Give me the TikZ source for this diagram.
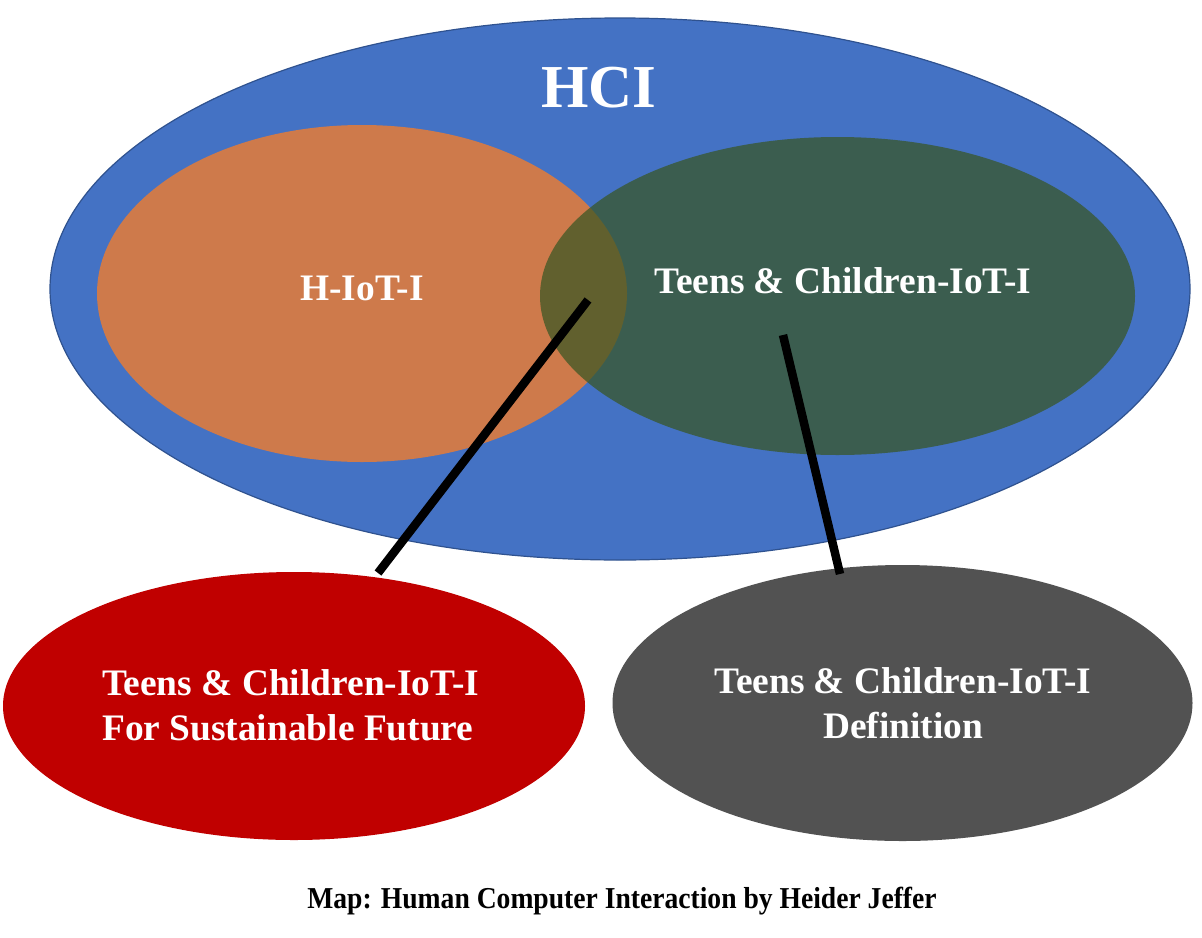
\documentclass[tikz,border=0pt]{standalone}
\usepackage{fontspec}
\setmainfont{Liberation Serif}
\usetikzlibrary{shapes.geometric}
\definecolor{hciblue}{RGB}{68,114,196}
\definecolor{hciborder}{RGB}{47,82,143}
\definecolor{hiotorange}{RGB}{206,122,75}
\definecolor{teengreen}{RGB}{56,86,35}
\definecolor{sustred}{RGB}{192,0,0}
\definecolor{defgray}{RGB}{82,82,82}
\tikzset{
  blob/.style={ellipse, inner sep=0pt, outer sep=0pt},
  whitetext/.style={text=white, font=\bfseries\fontsize{37.4}{45}\selectfont, inner sep=0pt},
  link/.style={line width=8.5pt, black, line cap=butt}
}
\begin{document}
\begin{tikzpicture}[x=1pt,y=-1pt]
\useasboundingbox (0,0) rectangle (1202,937);
\fill[white] (0,0) rectangle (1202,937);
% ellipses
\node[blob, fill=hciblue, draw=hciborder, line width=1.2pt, minimum width=1140pt, minimum height=542pt] (hci) at (620,289) {};
\node[blob, fill=hiotorange, minimum width=530pt, minimum height=337pt] (hiot) at (362,293.5) {};
\node[blob, fill=teengreen, fill opacity=0.72, minimum width=595pt, minimum height=318pt] (teen) at (837.5,296) {};
\node[blob, fill=sustred, minimum width=582pt, minimum height=268pt] (sust) at (294,706) {};
\node[blob, fill=defgray, minimum width=580pt, minimum height=276pt] (def) at (902.5,703) {};
% connectors
\coordinate (s1) at (588,300);
\coordinate (e1) at (378,573);
\coordinate (s2) at (783,335);
\coordinate (e2) at (840,574);
\draw[link] (s1) -- (e1);
\draw[link] (s2) -- (e2);
% texts
\node[whitetext, font=\bfseries\fontsize{61}{70}\selectfont, anchor=base] (hcit) at (599,107) {HCI};
\node[whitetext, anchor=base] (hiott) at (362,300) {H-IoT-I};
\node[whitetext, anchor=base] (teent) at (843,293) {Teens \& Children-IoT-I};
\node[whitetext, anchor=base west] (sust1) at (102,695) {Teens \& Children-IoT-I};
\node[whitetext, anchor=base west] (sust2) at (102,740) {For Sustainable Future};
\node[whitetext, anchor=base] (def1) at (903,693) {Teens \& Children-IoT-I};
\node[whitetext, anchor=base] (def2) at (903,738) {Definition};
\node[font=\bfseries\fontsize{27.6}{32}\selectfont, inner sep=0pt, anchor=base, yscale=1.1] (cap) at (622,908) {Map: Human Computer Interaction by Heider Jeffer};
\end{tikzpicture}
\end{document}
